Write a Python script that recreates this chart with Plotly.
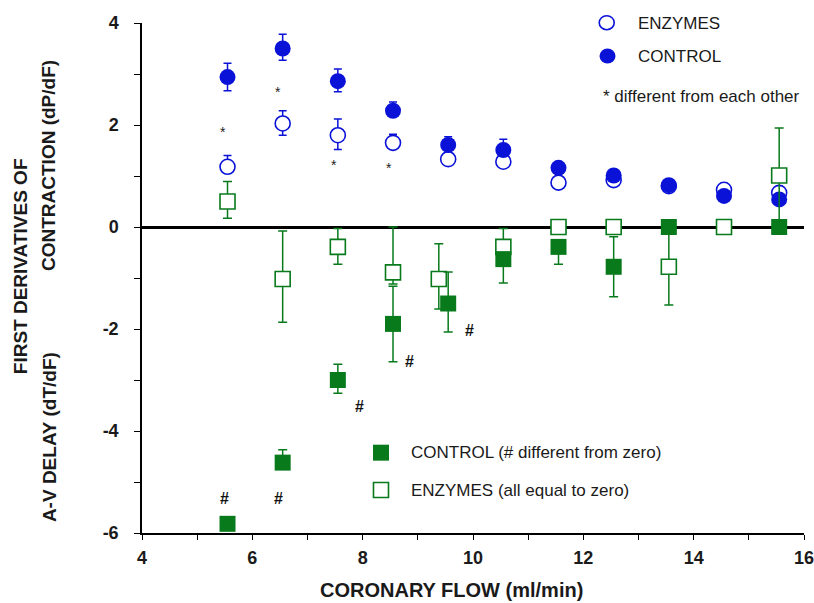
import plotly.graph_objects as go

# ---------------- data ----------------
# First derivatives of contraction (dP/dF) -- blue circles
flow = [5.55, 6.55, 7.55, 8.55, 9.55, 10.55, 11.55, 12.55, 13.55, 14.55, 15.55]
dpdf_control = [2.94, 3.50, 2.86, 2.28, 1.61, 1.51, 1.16, 1.01, 0.82, 0.61, 0.54]
dpdf_control_up = [0.27, 0.28, 0.24, 0.17, 0.16, 0.21, 0, 0, 0, 0, 0]
dpdf_control_dn = [0.27, 0.23, 0.21, 0, 0, 0, 0, 0, 0, 0, 0]
dpdf_enzymes = [1.18, 2.03, 1.80, 1.65, 1.33, 1.28, 0.87, 0.92, 0.80, 0.73, 0.67]
dpdf_enzymes_up = [0.22, 0.25, 0.32, 0.17, 0, 0, 0, 0, 0, 0, 0]
dpdf_enzymes_dn = [0, 0.23, 0.28, 0, 0, 0, 0, 0, 0, 0, 0]

# A-V delay (dT/dF) -- green squares
flow_av_enzymes = [5.55, 6.55, 7.55, 8.55, 9.38, 10.55, 11.55, 12.55, 13.55, 14.55, 15.55]
dtdf_enzymes = [0.50, -1.02, -0.39, -0.89, -1.02, -0.39, 0, 0, -0.78, 0, 1.01]
dtdf_enzymes_up = [0.39, 0.94, 0.36, 0.89, 0.69, 0.36, 0, 0, 0.78, 0, 0.93]
dtdf_enzymes_dn = [0.33, 0.85, 0.34, 0.23, 0.59, 0.36, 0, 0, 0.75, 0, 0.93]
flow_av_control = [5.55, 6.55, 7.55, 8.55, 9.55, 10.55, 11.55, 12.55, 13.55, 15.55]
dtdf_control = [-5.82, -4.62, -3.00, -1.90, -1.50, -0.63, -0.39, -0.78, 0, 0]
dtdf_control_up = [0, 0.25, 0.31, 0.74, 0.62, 0, 0, 0.59, 0, 0]
dtdf_control_dn = [0, 0, 0.26, 0.74, 0.56, 0.47, 0.34, 0.59, 0, 0]

# significance marks
star_x = [5.47, 6.46, 7.48, 8.48]
star_y = [1.94, 2.72, 1.29, 1.24]
hash_x = [5.50, 6.48, 7.95, 8.85, 9.93]
hash_y = [-5.32, -5.32, -3.52, -2.64, -2.02]

x_ticks = [4, 6, 8, 10, 12, 14, 16]
y_ticks = [-6, -4, -2, 0, 2, 4]

BLUE = "#0a12d8"
GREEN = "#087a1c"
FONT = "Arial, Liberation Sans, sans-serif"
TXT = "#1a1a1a"

fig = go.Figure()

fig.add_trace(go.Scatter(
    x=flow, y=dpdf_enzymes, mode="markers", name="ENZYMES",
    marker=dict(symbol="circle", size=15, color="white", line=dict(color=BLUE, width=1.6)),
    error_y=dict(type="data", symmetric=False, array=dpdf_enzymes_up, arrayminus=dpdf_enzymes_dn,
                 color=BLUE, thickness=1.5, width=4),
    cliponaxis=False, showlegend=False))
fig.add_trace(go.Scatter(
    x=flow, y=dpdf_control, mode="markers", name="CONTROL",
    marker=dict(symbol="circle", size=16, color=BLUE, line=dict(width=0)),
    error_y=dict(type="data", symmetric=False, array=dpdf_control_up, arrayminus=dpdf_control_dn,
                 color=BLUE, thickness=1.5, width=4),
    cliponaxis=False, showlegend=False))
fig.add_trace(go.Scatter(
    x=flow_av_enzymes, y=dtdf_enzymes, mode="markers", name="ENZYMES (all equal to zero)",
    marker=dict(symbol="square", size=15, color="white", line=dict(color=GREEN, width=1.6)),
    error_y=dict(type="data", symmetric=False, array=dtdf_enzymes_up, arrayminus=dtdf_enzymes_dn,
                 color=GREEN, thickness=1.5, width=4.5),
    cliponaxis=False, showlegend=False))
fig.add_trace(go.Scatter(
    x=flow_av_control, y=dtdf_control, mode="markers", name="CONTROL (# different from zero)",
    marker=dict(symbol="square", size=16, color=GREEN, line=dict(width=0)),
    error_y=dict(type="data", symmetric=False, array=dtdf_control_up, arrayminus=dtdf_control_dn,
                 color=GREEN, thickness=1.5, width=4.5),
    cliponaxis=False, showlegend=False))

annotations = []
for x, y in zip(star_x, star_y):
    annotations.append(dict(x=x, y=y, text="*", showarrow=False, yshift=-4,
                            font=dict(family=FONT, size=14, color="#222222")))
for x, y in zip(hash_x, hash_y):
    annotations.append(dict(x=x, y=y, text="#", showarrow=False,
                            font=dict(family=FONT, size=16, color="#111111", weight="bold")))

# legend texts
leg_font = dict(family=FONT, size=17, color=TXT)
annotations += [
    dict(x=12.96, y=4.0, text="ENZYMES", showarrow=False, xanchor="left", font=leg_font),
    dict(x=12.96, y=3.35, text="CONTROL", showarrow=False, xanchor="left", font=leg_font),
    dict(x=12.32, y=2.55, text="* different from each other", showarrow=False, xanchor="left",
         font=leg_font),
    dict(x=8.84, y=-4.43, text="CONTROL (# different from zero)", showarrow=False, xanchor="left",
         font=leg_font),
    dict(x=8.84, y=-5.16, text="ENZYMES (all equal to zero)", showarrow=False, xanchor="left",
         font=leg_font),
]

# axis titles (paper coordinates)
title_font = dict(family=FONT, size=19, color=TXT, weight="bold")
annotations += [
    dict(xref="paper", yref="paper", x=-0.184, y=0.5235, text="FIRST DERIVATIVES OF",
         textangle=-90, showarrow=False, xanchor="center", yanchor="middle", font=title_font),
    dict(xref="paper", yref="paper", x=-0.1405, y=0.7216, text="CONTRACTION (dP/dF)",
         textangle=-90, showarrow=False, xanchor="center", yanchor="middle", font=title_font),
    dict(xref="paper", yref="paper", x=-0.1405, y=0.188, text="A-V DELAY (dT/dF)",
         textangle=-90, showarrow=False, xanchor="center", yanchor="middle", font=title_font),
    dict(xref="paper", yref="paper", x=0.4668, y=-0.1118, text="CORONARY FLOW (ml/min)",
         showarrow=False, xanchor="center", yanchor="middle",
         font=dict(family=FONT, size=20, color=TXT, weight="bold")),
]

# legend symbols (paper coordinates so they are not clipped by the plot area)
shapes = [
    dict(type="circle", xref="paper", yref="paper", xsizemode="pixel", ysizemode="pixel",
         xanchor=0.702, yanchor=1.0006, x0=-7.5, x1=7.5, y0=-7, y1=7,
         line=dict(color=BLUE, width=1.6), fillcolor="white"),
    dict(type="circle", xref="paper", yref="paper", xsizemode="pixel", ysizemode="pixel",
         xanchor=0.7032, yanchor=0.9353, x0=-8, x1=8, y0=-7.5, y1=7.5,
         line=dict(width=0), fillcolor=BLUE),
    dict(type="rect", xref="paper", yref="paper", xsizemode="pixel", ysizemode="pixel",
         xanchor=0.361, yanchor=0.1575, x0=-8, x1=8, y0=-8, y1=8,
         line=dict(width=0), fillcolor=GREEN),
    dict(type="rect", xref="paper", yref="paper", xsizemode="pixel", ysizemode="pixel",
         xanchor=0.361, yanchor=0.0843, x0=-7.5, x1=7.5, y0=-7.5, y1=7.5,
         line=dict(color=GREEN, width=1.6), fillcolor="white"),
]

fig.update_layout(
    width=814, height=603,
    margin=dict(l=142, r=10, t=23, b=70),
    paper_bgcolor="white", plot_bgcolor="white",
    font=dict(family=FONT, color=TXT),
    annotations=annotations, shapes=shapes,
    showlegend=False,
)
fig.update_xaxes(
    range=[4, 16], tickvals=x_ticks, ticktext=[str(v) for v in x_ticks],
    ticks="outside", ticklen=5, tickwidth=1.3, tickcolor="black",
    minor=dict(dtick=1, ticks="outside", ticklen=5, tickwidth=1.3, tickcolor="black", showgrid=False),
    showline=True, linecolor="black", linewidth=1.5, showgrid=False, zeroline=False,
    tickfont=dict(family=FONT, size=18, color=TXT, weight="bold"), ticklabelstandoff=3,
    ticklabeloverflow="allow", automargin=False,
)
fig.update_yaxes(
    range=[-6, 4], tickvals=y_ticks, ticktext=[str(v) for v in y_ticks],
    ticks="outside", ticklen=6, tickwidth=1.3, tickcolor="black",
    minor=dict(dtick=1, ticks="outside", ticklen=6, tickwidth=1.3, tickcolor="black", showgrid=False),
    showline=True, linecolor="black", linewidth=1.5, showgrid=False,
    zeroline=True, zerolinecolor="black", zerolinewidth=2.5,
    tickfont=dict(family=FONT, size=18, color=TXT, weight="bold"), ticklabelstandoff=12,
    ticklabeloverflow="allow", automargin=False,
)

fig.write_html("out.html", config={"displayModeBar": False},
               post_script="document.body.style.margin='0';")
